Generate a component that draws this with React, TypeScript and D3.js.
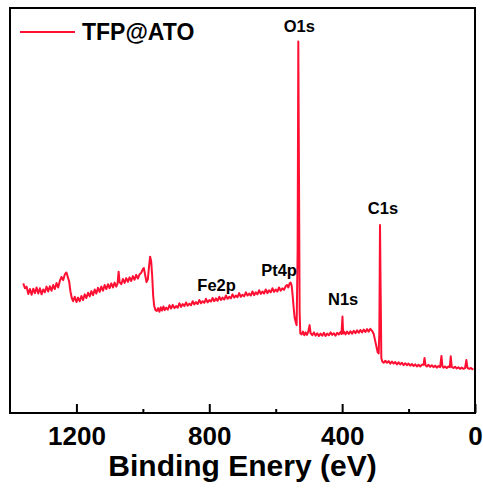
import React, { useEffect, useRef } from 'react';
import * as d3 from 'd3';

// binding energy (eV) and intensity (a.u.)
const bindingEnergy = [
  1360, 1355, 1350, 1345, 1340, 1335, 1330, 1325, 1320, 1315, 1310, 1305, 1300, 1295, 1290, 1285,
  1280, 1275, 1270, 1265, 1260, 1255, 1250, 1245, 1240, 1235, 1230, 1226, 1222, 1218, 1214, 1210,
  1205, 1200, 1195, 1190, 1185, 1180, 1175, 1170, 1165, 1160, 1155, 1150, 1145, 1140, 1135, 1130,
  1125, 1120, 1115, 1110, 1105, 1100, 1095, 1090, 1085, 1080, 1076, 1073, 1070, 1065, 1060, 1055,
  1050, 1045, 1040, 1035, 1030, 1025, 1020, 1015, 1010, 1005, 1000, 997, 993, 989, 985, 981,
  978, 975, 972, 969, 966, 962, 958, 954, 950, 946, 942, 938, 934, 930, 925, 920,
  915, 910, 905, 900, 895, 890, 885, 880, 875, 870, 865, 860, 855, 850, 845, 840,
  835, 830, 825, 820, 815, 810, 805, 800, 795, 790, 785, 780, 775, 770, 765, 760,
  755, 750, 745, 740, 735, 730, 725, 720, 715, 710, 705, 700, 695, 690, 685, 680,
  675, 670, 665, 660, 655, 650, 645, 640, 635, 630, 625, 620, 615, 610, 605, 600,
  595, 590, 585, 580, 575, 570, 566, 562, 558, 555, 552, 549, 546, 543, 540, 537,
  534, 532, 530, 528, 526, 522, 518, 514, 510, 506, 502, 498, 495, 490, 485, 480,
  475, 470, 465, 460, 455, 450, 445, 440, 435, 430, 425, 420, 415, 410, 405, 402,
  399, 397, 394, 390, 385, 380, 375, 370, 365, 360, 355, 350, 345, 340, 335, 330,
  325, 320, 315, 310, 305, 301, 297, 293, 290, 288, 286, 284, 282, 279, 275, 270,
  265, 260, 255, 250, 245, 240, 235, 230, 225, 220, 215, 210, 205, 200, 195, 190,
  185, 180, 175, 170, 165, 160, 155, 152, 149, 145, 140, 135, 130, 125, 120, 115,
  110, 105, 101, 98, 95, 90, 85, 80, 76, 73, 70, 65, 60, 55, 50, 45,
  40, 35, 30, 26, 23, 18, 12, 8, 5,
];
const intensity = [
  32.0, 30.8, 31.2, 29.4, 30.6, 29.2, 30.7, 29.6, 31.0, 29.5, 30.8, 29.3, 30.5, 29.8, 31.2, 30.0,
  31.3, 30.2, 31.6, 30.6, 32.1, 31.0, 32.6, 33.6, 32.8, 34.2, 34.7, 33.6, 32.5, 30.0, 28.4, 27.6,
  28.7, 27.4, 28.5, 27.6, 28.9, 27.9, 29.3, 28.4, 29.7, 28.8, 30.1, 29.1, 30.5, 29.5, 30.9, 29.9,
  31.2, 30.2, 31.6, 30.6, 31.8, 30.8, 32.0, 31.0, 32.2, 31.2, 32.0, 34.9, 32.3, 31.8, 33.1, 32.1,
  33.3, 32.4, 33.5, 32.6, 33.8, 32.9, 34.1, 33.2, 34.2, 34.6, 35.5, 35.8, 34.0, 32.3, 33.0, 36.5,
  38.6, 37.5, 34.0, 29.0, 26.5, 25.4, 25.2, 25.9, 25.0, 26.1, 25.3, 26.3, 25.4, 26.0, 25.5, 26.6,
  25.8, 26.7, 25.9, 26.4, 26.0, 27.1, 26.2, 26.9, 26.4, 27.3, 26.5, 27.0, 26.6, 27.6, 26.8, 27.4,
  26.9, 27.9, 27.1, 27.6, 27.2, 28.2, 27.3, 27.9, 27.5, 28.4, 27.6, 28.3, 27.7, 28.7, 27.9, 28.5,
  28.0, 29.0, 28.2, 28.7, 28.3, 29.3, 28.5, 29.0, 28.6, 29.6, 28.7, 29.2, 28.8, 29.8, 29.0, 29.5,
  29.0, 30.0, 29.1, 29.8, 29.3, 30.3, 29.4, 30.0, 29.5, 30.5, 29.6, 30.3, 29.8, 30.8, 29.9, 30.5,
  30.0, 31.0, 30.2, 30.8, 30.4, 31.3, 31.6, 31.0, 32.0, 32.2, 31.5, 29.0, 26.0, 23.5, 22.5, 21.7,
  40.0, 91.7, 60.0, 25.0, 19.7, 19.4, 20.1, 19.2, 19.9, 19.3, 20.1, 21.7, 19.7, 19.2, 19.9, 19.1,
  19.7, 19.0, 19.6, 19.1, 19.8, 19.0, 19.6, 19.2, 19.9, 19.3, 19.7, 19.1, 19.8, 19.4, 20.0, 19.5,
  23.8, 19.6, 20.1, 19.4, 20.1, 19.5, 20.2, 19.6, 20.3, 19.7, 20.4, 19.8, 20.5, 19.9, 20.6, 20.0,
  20.7, 20.1, 20.8, 20.3, 19.5, 18.0, 16.5, 15.0, 14.7, 20.0, 46.4, 30.0, 13.5, 12.7, 12.4, 12.9,
  12.4, 12.8, 12.2, 12.7, 12.2, 12.6, 12.0, 12.5, 12.0, 12.4, 11.8, 12.3, 11.8, 12.2, 11.7, 12.1,
  11.6, 12.0, 11.5, 11.9, 11.5, 11.9, 11.9, 13.6, 11.8, 11.5, 11.9, 11.4, 11.8, 11.3, 11.7, 11.2,
  11.6, 11.3, 14.1, 11.5, 11.2, 11.5, 11.1, 11.5, 11.3, 14.0, 11.4, 11.1, 11.4, 11.0, 11.3, 10.9,
  11.2, 10.9, 11.1, 13.1, 11.2, 10.9, 11.1, 10.8, 11.0,
];

// peak annotations: name, binding energy of label centre, intensity of label baseline
const peakNames = ['O1s', 'C1s', 'Pt4p', 'N1s', 'Fe2p'];
const peakEnergy = [529, 277, 590, 397, 778];
const peakLabelLevel = [94.1, 49.1, 33.8, 26.7, 30.2];

const majorTicks = [1200, 800, 400, 0];
const minorTicks = [1000, 600, 200];
const seriesName = 'TFP@ATO';
const xTitle = 'Binding Enery (eV)';

const App = () => {
  const svgRef = useRef<SVGSVGElement>(null);

  useEffect(() => {
    const svg = d3.select(svgRef.current);
    svg.selectAll('*').remove();

    const width = 483;
    const height = 493;
    const margin = { top: 8, right: 8, bottom: 80, left: 10 };
    const font = 'Arial, "Liberation Sans", sans-serif';
    const red = '#ff1033';

    const x = d3.scaleLinear()
      .domain([1400, 0])
      .range([margin.left, width - margin.right]);
    const y = d3.scaleLinear()
      .domain([0, 100])
      .range([height - margin.bottom, margin.top]);

    svg.append('rect')
      .attr('width', width)
      .attr('height', height)
      .attr('fill', 'white');

    const points = bindingEnergy.map((e, i) => [e, intensity[i]] as [number, number]);
    const line = d3.line<[number, number]>()
      .x(d => x(d[0]))
      .y(d => y(d[1]));

    svg.append('path')
      .datum(points)
      .attr('d', line)
      .attr('fill', 'none')
      .attr('stroke', red)
      .attr('stroke-width', 2)
      .attr('stroke-linejoin', 'round');

    // bottom axis, ticks pointing inwards
    const axisY = height - margin.bottom;
    const xAxis = svg.append('g').attr('transform', `translate(0,${axisY})`);
    xAxis.call(d3.axisBottom(x).tickValues(majorTicks).tickSize(-9).tickFormat(d3.format('d')));
    xAxis.select('.domain').remove();
    xAxis.selectAll('line').attr('stroke', 'black').attr('stroke-width', 2);
    xAxis.selectAll('text')
      .attr('y', 14)
      .attr('dy', '0.71em')
      .style('font-family', font)
      .style('font-weight', 'bold')
      .style('font-size', '26px')
      .attr('fill', 'black');

    svg.append('g')
      .attr('transform', `translate(0,${axisY})`)
      .call(d3.axisBottom(x).tickValues(minorTicks).tickSize(-4).tickFormat(() => ''))
      .call(g => g.select('.domain').remove())
      .selectAll('line').attr('stroke', 'black').attr('stroke-width', 2);

    // frame
    svg.append('rect')
      .attr('x', margin.left)
      .attr('y', margin.top)
      .attr('width', width - margin.left - margin.right)
      .attr('height', height - margin.top - margin.bottom)
      .attr('fill', 'none')
      .attr('stroke', 'black')
      .attr('stroke-width', 2);

    svg.append('text')
      .attr('x', (margin.left + width - margin.right) / 2)
      .attr('y', 476)
      .attr('text-anchor', 'middle')
      .style('font-family', font)
      .style('font-weight', 'bold')
      .style('font-size', '30px')
      .text(xTitle);

    // peak labels
    peakNames.forEach((name, i) => {
      svg.append('text')
        .attr('x', x(peakEnergy[i]))
        .attr('y', y(peakLabelLevel[i]))
        .attr('text-anchor', 'middle')
        .style('font-family', font)
        .style('font-weight', 'bold')
        .style('font-size', '16.5px')
        .text(name);
    });

    // legend
    svg.append('line')
      .attr('x1', 20).attr('x2', 75)
      .attr('y1', 32).attr('y2', 32)
      .attr('stroke', red)
      .attr('stroke-width', 2);
    svg.append('text')
      .attr('x', 82)
      .attr('y', 40)
      .style('font-family', font)
      .style('font-weight', 'bold')
      .style('font-size', '23px')
      .text(seriesName);
  }, []);

  return (
    <div style={{ position: 'fixed', top: 0, left: 0 }}>
      <svg ref={svgRef} width="483" height="493"></svg>
    </div>
  );
};

export default App;
